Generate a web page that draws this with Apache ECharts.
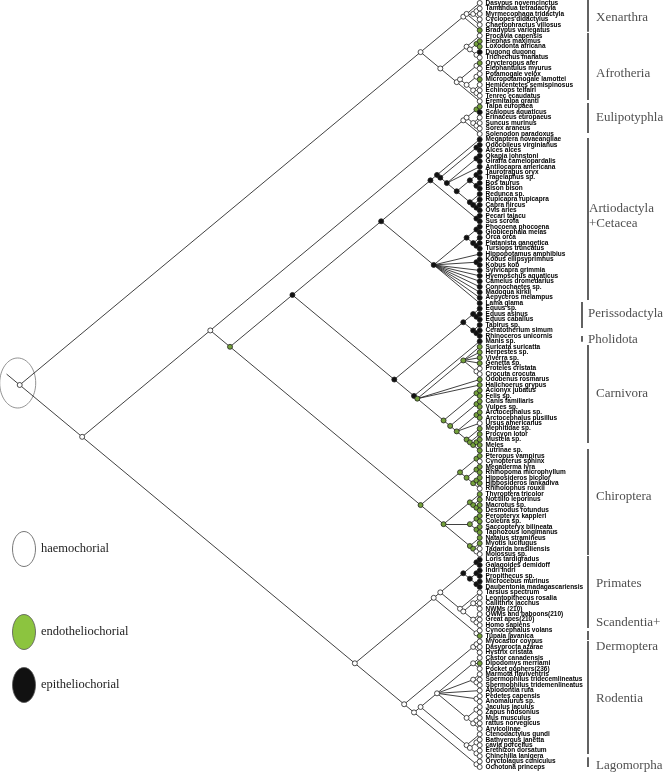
<!DOCTYPE html>
<html><head><meta charset="utf-8">
<script src="https://cdn.jsdelivr.net/npm/echarts/dist/echarts.min.js"></script>
<style>html,body{margin:0;padding:0;background:#fff}#c{width:668px;height:773px}</style>
</head><body><div id="c"></div>
<script>
// ---------- DATA ----------
const taxa = [
"Dasypus novemcinctus","Tamandua tetradactyla","Myrmecophaga tridactyla","Cyclopes didactylus","Chaetophractus villosus","Bradypus variegatus",
"Procavia capensis","Elephas maximus","Loxodonta africana","Dugong dugong","Trichechus manatus","Orycteropus afer","Elephantulus myurus",
"Potamogale velox","Micropotamogale lamottei","Hemicentetes semispinosus","Echinops telfairi","Tenrec ecaudatus","Eremitalpa granti",
"Talpa europaea","Scalopus aquaticus","Erinaceus europaeus","Suncus murinus","Sorex araneus","Solenodon paradoxus",
"Megaptera novaeangliae","Odocoileus virginianus","Alces alces","Okapia johnstoni","Giraffa camelopardalis","Antilocapra americana",
"Taurotragus oryx","Tragelaphus sp.","Bos taurus","Bison bison","Redunca sp.","Rupicapra rupicapra","Capra hircus","Ovis aries",
"Pecari tajacu","Sus scrofa","Phocoena phocoena","Globicephala melas","Orca orca","Platanista gangetica","Tursiops truncatus",
"Hippopotamus amphibius","Kobus ellipsyprimnus","Kobus kob","Sylvicapra grimmia","Hyemoschus aquaticus","Camelus dromedarius",
"Connochaetes sp.","Madoqua kirkii","Aepyceros melampus","Lama glama","Equus sp.","Equus asinus","Equus caballus","Tapirus sp.",
"Ceratotherium simum","Rhinoceros unicornis","Manis sp.","Suricata suricatta","Herpestes sp.","Viverra sp.","Genetta sp.",
"Proteles cristata","Crocuta crocuta","Odobenus rosmarus","Halichoerus grypus","Acionyx jubatus","Felis sp.","Canis familiaris",
"Vulpes sp.","Arctocephalus sp.","Arctocephalus pusillus","Ursus americanus","Mephitidae sp.","Procyon lotor","Mustela sp.","Meles",
"Lutrinae sp.","Pteropus vampirus","Cynopterus sphinx","Megaderma lyra","Rhinopoma microphyllum","Hipposideros bicolor",
"Hipposideros lankadiva","Rhinolophus rouxii","Thyroptera tricolor","Noctilio leporinus","Macrotus sp.","Desmodus rotundus",
"Peropteryx kappleri","Coleura sp.","Saccopteryx bilineata","Taphozous longimanus","Natalus stramineus","Myotis lucifugus",
"Tadarida brasiliensis","Molossus sp.","Loris tardigradus","Galagoides demidoff","Indri indri","Propithecus sp.","Microcebus murinus",
"Daubentonia madagascariensis","Tarsius spectrum","Leontopithecus rosalia","Callithrix jacchus","NWMs (210)","OWMs and baboons(210)",
"Great apes(210)","Homo sapiens","Cynocephalus volans","Tupaia javanica","Myocastor coypus","Dasyprocta azarae","Hystrix cristata",
"Castor canadensis","Dipodomys merriami","Pocket gophers(236)","Marmota flaviventris","Spermophilus tridecemlineatus",
"Spermophilus tridemenlineatus","Aplodontia rufa","Pedetes capensis","Anomalurus sp.","Jaculus jaculus","Zapus hudsonius",
"Mus musculus","rattus norvegicus","Arvicolinae","Ctenodactylus gundi","Bathyergus janetta","cavia porcellus","Erethizon dorsatum",
"Chinchilla lanigera","Oryctolagus cuniculus","Ochotona princeps"];

// placentation state per taxon: o = haemochorial, g = endotheliochorial, b = epitheliochorial
const leafStates = (
 "ooooog"+"oggbo"+"googoooo"+"gboooo"+"bbbbbbbbbbbbbbbbbbbbbbbbbbbbbbb"+"bbbbbb"+"b"+
 "gggg"+"oo"+"gggggggg"+"o"+"ggggg"+"go"+"gggg"+"o"+"gggggggggg"+"oo"+"bbbbbb"+"oooooooo"+"g"+"oooo"+"g"+"ooooooooooooooooooo"
).split("");

// topology (leaf numbers, internal node state after ')')
const clades = {
 XEN:   "((1,((2,3)o,4)o,5)o,6)o",
 AFRO:  "((7,((8,9)g,(10,11)o)o)o,(((12,13)o,((14,15)o,(16,(17,18)o)o)o)o,19)o)o",
 EULI:  "(((20,21)g,(22,(23,24)o)o)o,25)o",
 BOV:   "(((32,33)b,(34,35)b)b,(36,(37,(38,39)b)b)b)b",
 RUM:   "((26,((27,28)b,((29,30)b,31,{BOV})b)b)b,(40,41)b)b",
 CET:   "((42,43)b,(44,(45,46)b)b)b",
 FAN:   "({CET},47,(48,49)b,50,51,52,53,54,55,56)b",
 PERI:  "((57,(58,59)b)b,(60,(61,62)b)b)b",
 CARN:  "((64,65,66,67,(68,69)o)g,70,71,((72,73)g,((74,75)g,((76,77)g,78,(79,(80,((81,82)g,83)g)g)g)g)g)g)g",
 CHIRO: "(((84,85)g,((86,87)g,((88,89)g,90)g)g)g,((91,(92,(93,94)g)g)g,((95,96)g,(97,98)g)g,(99,(100,(101,102)o)g)g)g)g",
 LAUR:  "({EULI},((({RUM},{FAN})b,({PERI},(63,{CARN})b)b)b,{CHIRO})g)o",
 PRIM:  "(((103,104)b,((105,106)b,(107,108)b)b)b,(109,((110,111,112)o,(113,(114,115)o)o)o)o)o",
 RFAN:  "((121,122,123)o,(124,(125,126)o)o,127,(128,129)o,((130,131)o,((132,133)o,134)o)o)o",
 RB:    "(135,((136,137)o,(138,139)o)o)o",
 GLIR:  "(((118,119)o,120)o,(({RFAN},{RB})o,(140,141)o)o)o",
 ROOT:  "(({XEN},{AFRO})o,({LAUR},(({PRIM},(116,117)o)o,{GLIR})o)o)o"
};

// clade annotations: bracket spans and label rows (in leaf-row units)
const bracketFrom = [0.45, 6.5, 19.33, 25.74, 55.79, 62.02, 63.67, 82.73, 102.34, 116.1, 117.9, 139.2];
const bracketTo   = [6.26, 18.78, 24.82, 55.43, 60.56, 63.07, 81.63, 102.16, 115.54, 117.75, 138.6, 141.0];
const cladeLabels = ["Xenarthra","Afrotheria","Eulipotyphla","Artiodactyla","+Cetacea","Perissodactyla","Pholidota","Carnivora","Chiroptera","Primates","Scandentia+","Dermoptera","Rodentia","Lagomorpha"];
const cladeLabelRow = [3.62, 13.9, 22.07, 38.6, 41.4, 57.86, 62.63, 72.65, 91.5, 107.3, 114.45, 118.85, 128.5, 140.8];

const legendNames = ["haemochorial","endotheliochorial","epitheliochorial"];
const legendStates = ["o","g","b"];

// ---------- STYLE ----------
const FILL = {o:"#ffffff", g:"#73a03a", b:"#111111"};
const LEGEND_FILL = {o:"#ffffff", g:"#8cc43f", b:"#111111"};
const STEM = 4;
const BR_X = 32.8, BR_X_SHIFTED = 31.1;
const bracketX = i => (i===4||i===5) ? BR_X_SHIFTED : BR_X;
const labelX = i => (i===5||i===6) ? 32.96 : ((i===3||i===4) ? 33.26 : 35.4);

// ---------- BUILD TREE ----------
function expand(s){ let prev; do { prev=s; s=s.replace(/\{(\w+)\}/g,(m,k)=>clades[k]); } while(s!==prev); return s; }
function parse(str){
  let i=0;
  function node(){
    if(str[i]==='('){
      i++; const kids=[node()];
      while(str[i]===','){ i++; kids.push(node()); }
      i++; let lab='';
      while(i<str.length && /[a-z]/.test(str[i])) lab+=str[i++];
      return {kids, state:lab||'o'};
    }
    let num=''; while(i<str.length && /[0-9]/.test(str[i])) num+=str[i++];
    return {leaf:+num};
  }
  return node();
}
const root = parse(expand(clades.ROOT));
const edges=[], inner=[];
function layout(n){
  if(n.leaf){ n.first=n.last=n.leaf; n.x=0; n.y=n.leaf; return; }
  n.kids.forEach(layout);
  n.first=n.kids[0].first; n.last=n.kids[n.kids.length-1].last;
  n.x=-(n.last-n.first); n.y=(n.first+n.last)/2;
}
layout(root);
function collect(n){
  if(n.leaf) return;
  inner.push({value:[n.x,n.y], itemStyle:{color:FILL[n.state]}});
  n.kids.forEach(k=>{ edges.push({coords:[[n.x,n.y],[k.x,k.y]]}); collect(k); });
}
collect(root);
edges.push({coords:[[root.x,root.y],[root.x-STEM,root.y-STEM/2]]});

const leaves = taxa.map((t,i)=>({name:t, value:[0,i+1], itemStyle:{color:FILL[leafStates[i]]}}));
const bracketLines = bracketFrom.map((f,i)=>({coords:[[bracketX(i),f],[bracketX(i),bracketTo[i]]]}));
const bracketText = cladeLabels.map((n,i)=>({name:n, value:[labelX(i), cladeLabelRow[i]]}));

const chart = echarts.init(document.getElementById('c'), null, {renderer:'canvas'});
chart.setOption({
  animation:false,
  backgroundColor:'#fff',
  grid:{left:0,right:1,top:0,bottom:0},
  xAxis:{type:'value',min:-146,max:57,show:false},
  yAxis:{type:'value',inverse:true,min:0.45,max:142.1,show:false},
  series:[
    {type:'lines',coordinateSystem:'cartesian2d',data:edges,silent:true,z:1,
     lineStyle:{color:'#2b2b2b',width:0.9,opacity:1}},
    {type:'lines',coordinateSystem:'cartesian2d',data:bracketLines,silent:true,z:1,
     lineStyle:{color:'#3a3a3a',width:1.6,opacity:1}},
    {type:'scatter',data:inner,symbol:'circle',symbolSize:5,z:3,silent:true,
     itemStyle:{borderColor:'#222',borderWidth:0.8,opacity:1}},
    {type:'scatter',data:leaves,symbol:'circle',symbolSize:5,z:3,silent:true,
     itemStyle:{borderColor:'#222',borderWidth:0.8,opacity:1},
     label:{show:true,position:'right',distance:3,formatter:'{b}',fontSize:6.5,fontWeight:'bold',
            color:'#000',fontFamily:'Liberation Sans, Arial, sans-serif'}},
    {type:'scatter',data:bracketText,symbolSize:0,z:4,silent:true,
     label:{show:true,position:'right',distance:0,formatter:'{b}',fontSize:13,
            color:'#222',fontFamily:'Liberation Serif, Times New Roman, serif'}}
  ]
});
// root ellipse and legend
const rp = chart.convertToPixel({gridIndex:0},[root.x,root.y]);
const legendY = [549, 632, 685];
chart.setOption({graphic:[
  {type:'ellipse',shape:{cx:rp[0]-2,cy:rp[1]-2,rx:18,ry:25},style:{fill:null,stroke:'#777',lineWidth:0.8},silent:true},
  ...legendNames.map((n,i)=>({type:'group',children:[
    {type:'ellipse',shape:{cx:24,cy:legendY[i],rx:11.5,ry:17.5},style:{fill:LEGEND_FILL[legendStates[i]],stroke:'#555',lineWidth:0.8}},
    {type:'text',x:41,y:legendY[i],style:{text:n,fill:'#222',font:'12.5px "Liberation Serif", serif',textVerticalAlign:'middle'}}
  ]}))
]});
</script>
</body></html>
